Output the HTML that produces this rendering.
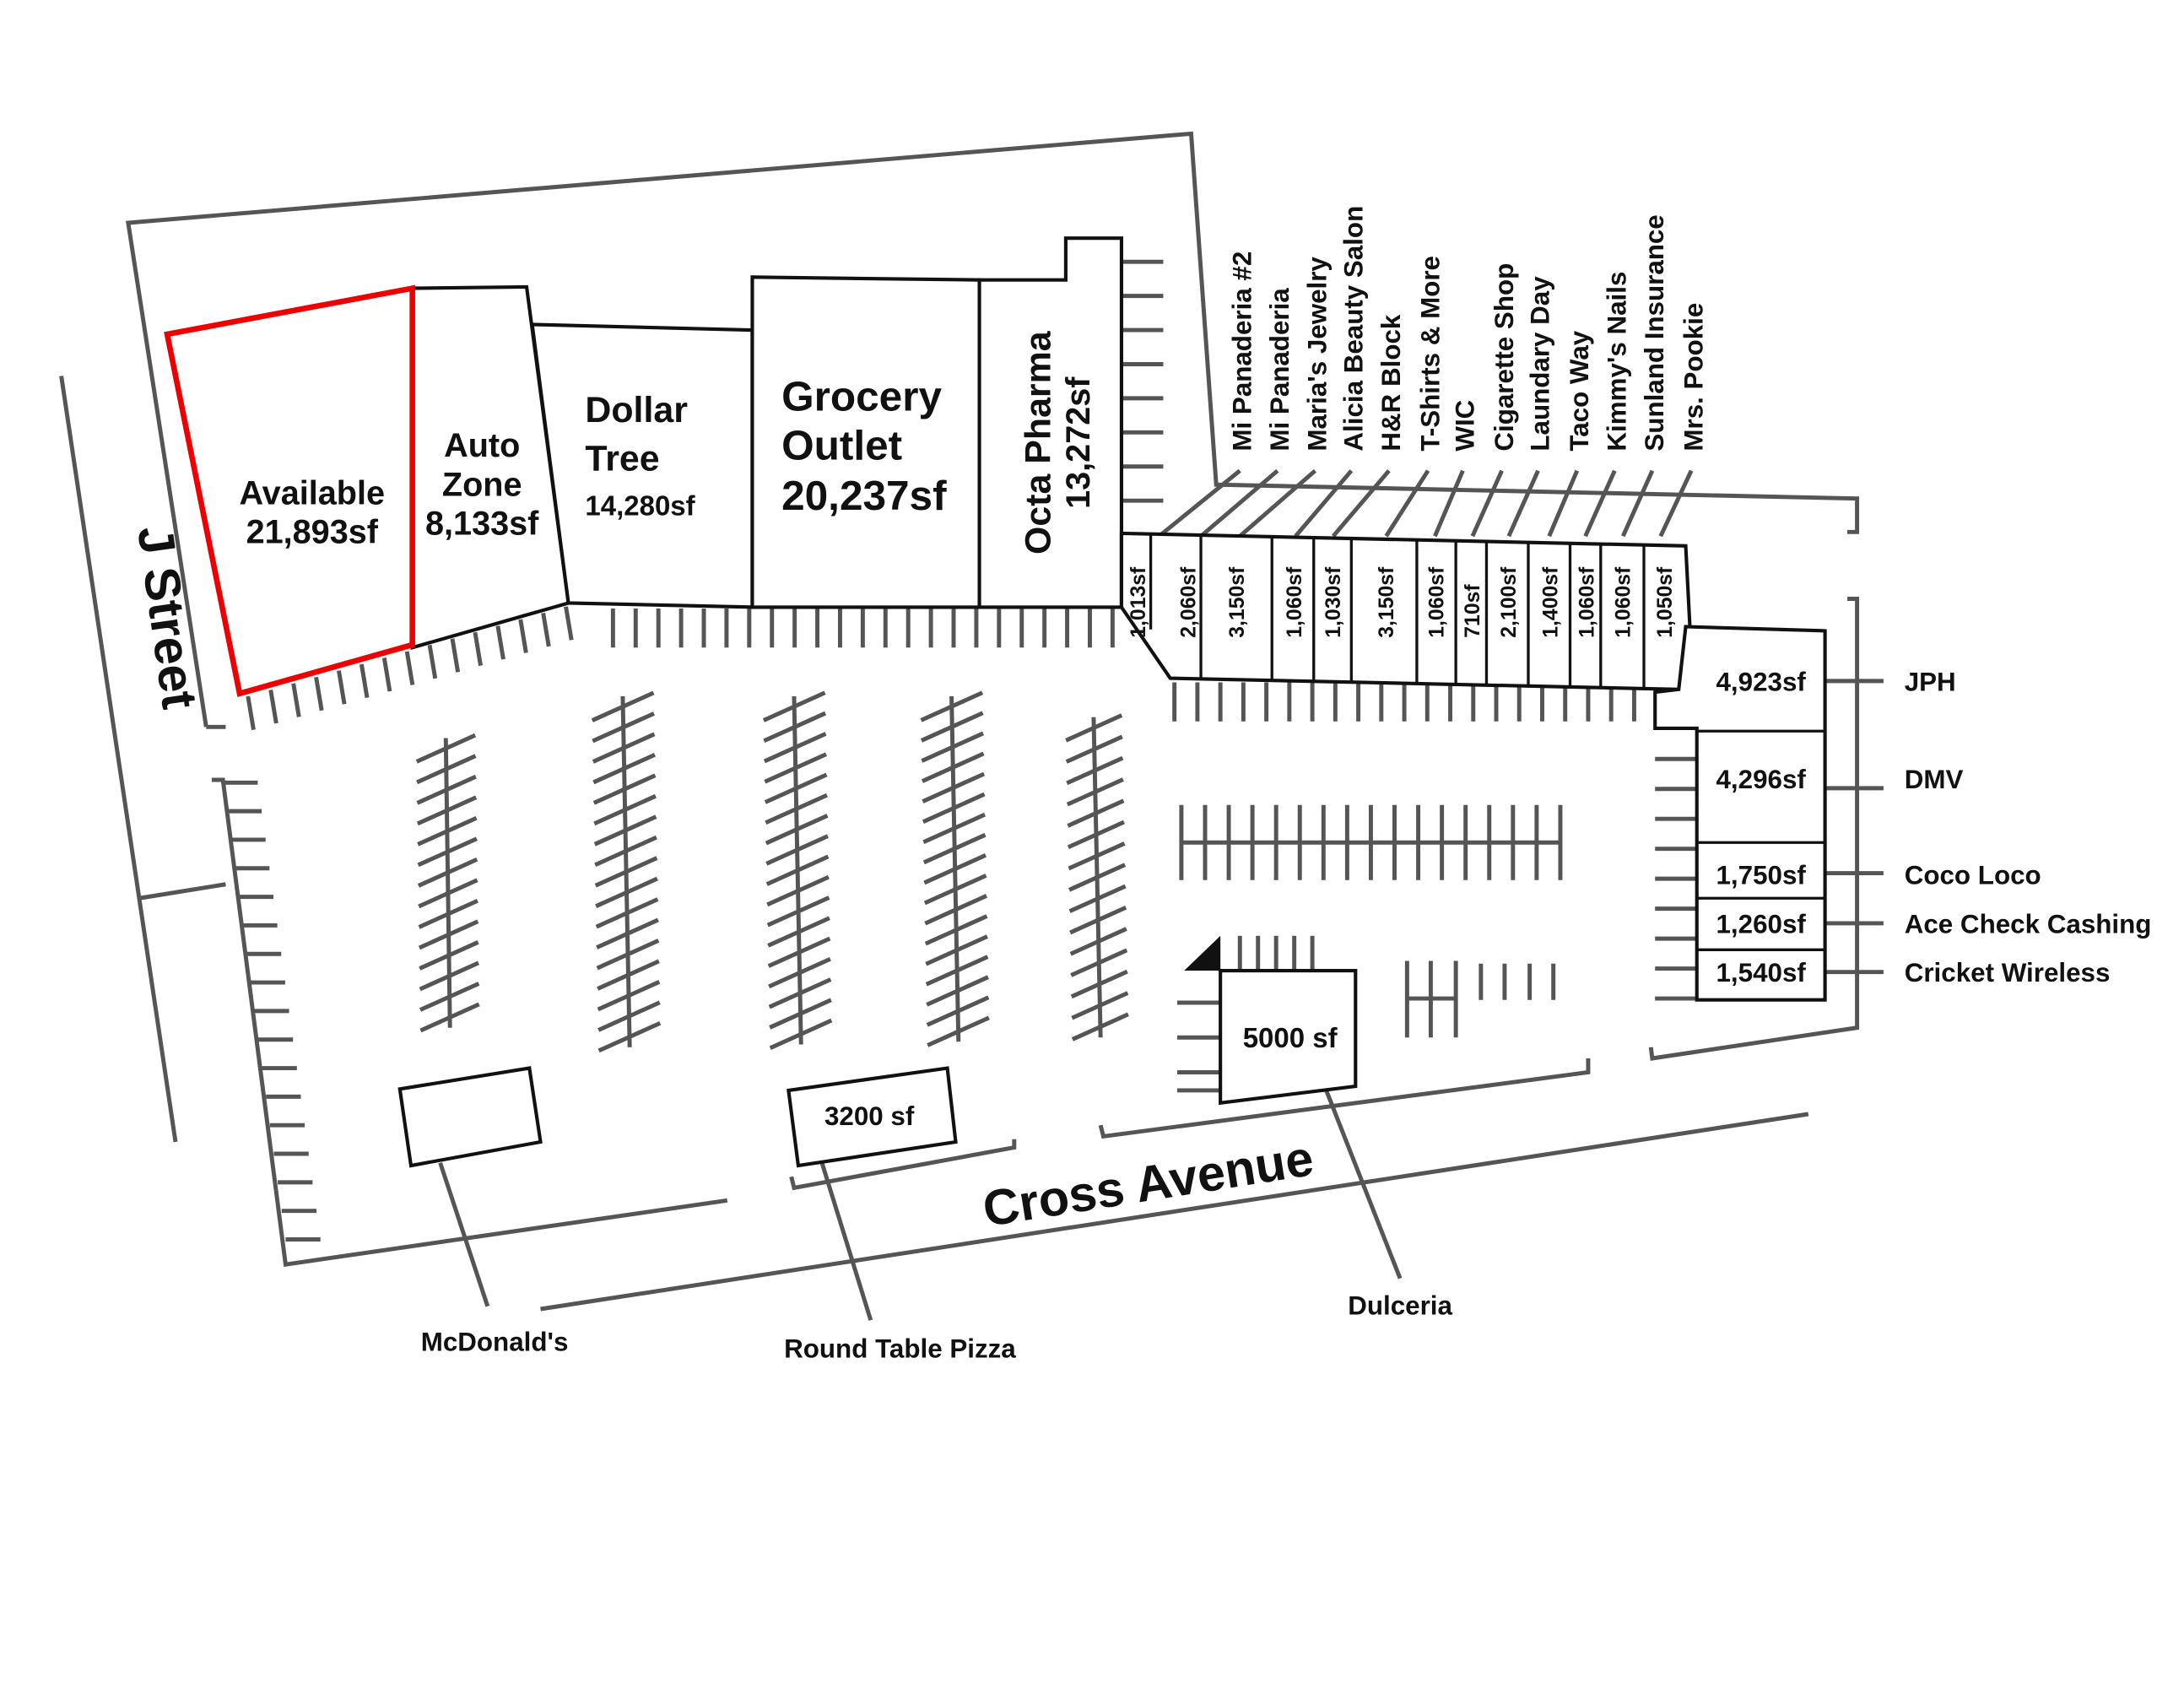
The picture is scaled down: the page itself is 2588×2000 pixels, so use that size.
<!DOCTYPE html>
<html><head><meta charset="utf-8"><style>
html,body{margin:0;padding:0;background:#fff;}
svg{display:block;}
text{font-family:"Liberation Sans",sans-serif;font-weight:bold;fill:#111;}
</style></head><body>
<svg id="s" xmlns="http://www.w3.org/2000/svg" width="2588" height="2000" viewBox="0 0 1552 1200" preserveAspectRatio="none">
<g transform="scale(0.99)">
<g fill="none" stroke="#555" stroke-width="3">
<polyline points="148,522 92,160 855,96 873,348 1333,358 1333,382 1326,382"/>
<polyline points="148,522 162,522"/>
<polyline points="152,560 160,560 205,908 522,862"/>
<polyline points="100,645 162,635"/>
<line x1="44" y1="270" x2="126" y2="820"/>
<polyline points="568,845 570,853 728,824 728,818"/>
<polyline points="790,808 792,816 1140,770 1140,760"/>
<polyline points="1185,752 1186,760 1333,738 1333,430 1326,430"/>
<line x1="388" y1="940" x2="1298" y2="800"/>
<line x1="316" y1="835" x2="350" y2="938"/>
<line x1="590" y1="835" x2="625" y2="948"/>
<line x1="952" y1="783" x2="1005" y2="918"/>
<line x1="1310" y1="489" x2="1352" y2="489"/>
<line x1="1310" y1="566" x2="1352" y2="566"/>
<line x1="1310" y1="627" x2="1352" y2="627"/>
<line x1="1310" y1="663" x2="1352" y2="663"/>
<line x1="1310" y1="698" x2="1352" y2="698"/>
<line x1="848" y1="605" x2="1120" y2="605"/>
<line x1="1010" y1="717" x2="1045" y2="717"/>
</g>
<g id="ticks" fill="none" stroke="#555" stroke-width="3"></g>
<g fill="#fff" stroke="#111" stroke-width="2.5">
<polygon points="296,207 378,206 408,433 296,465"/>
<polygon points="382,233 540,237 540,436 408,433"/>
<polygon points="540,199 703,201 703,436 540,436"/>
<polygon points="703,201 765,201 765,171 805,171 805,436 703,436"/>
<polygon points="805,383 1210,392 1213,450 1205,495 840,487 805,436"/>
<polygon points="1210,450 1310,453 1310,718 1218,718 1218,523 1188,523 1188,497 1205,495"/>
<polygon points="876,697 973,697 973,780 876,792"/>
<polygon points="287,782 380,767 388,820 295,837"/>
<polygon points="566,783 680,767 686,820 573,837"/>
</g>
<polygon points="850,697 876,672 876,697" fill="#111"/>
<polygon points="120,240 296,207 296,463 172,498" fill="none" stroke="#e00" stroke-width="4"/>
<g stroke="#111" stroke-width="2">
<line x1="826" y1="384" x2="826" y2="452"/><line x1="862" y1="385" x2="862" y2="488"/>
<line x1="913" y1="386" x2="913" y2="488"/><line x1="943" y1="386" x2="943" y2="489"/>
<line x1="970" y1="387" x2="970" y2="489"/><line x1="1017" y1="388" x2="1017" y2="490"/>
<line x1="1045" y1="389" x2="1045" y2="491"/><line x1="1067" y1="389" x2="1067" y2="491"/>
<line x1="1097" y1="390" x2="1097" y2="492"/><line x1="1127" y1="390" x2="1127" y2="493"/>
<line x1="1149" y1="391" x2="1149" y2="493"/><line x1="1180" y1="391" x2="1180" y2="494"/>
<line x1="1218" y1="525" x2="1310" y2="525"/><line x1="1218" y1="605" x2="1310" y2="605"/>
<line x1="1218" y1="645" x2="1310" y2="645"/><line x1="1218" y1="682" x2="1310" y2="682"/>
</g>
<g text-anchor="middle">
<text x="224" y="362" font-size="24">Available</text>
<text x="224" y="390" font-size="24">21,893sf</text>
<text x="346" y="328" font-size="24">Auto</text>
<text x="346" y="356" font-size="24">Zone</text>
<text x="346" y="384" font-size="24">8,133sf</text>
<text x="420" y="303" font-size="26" text-anchor="start">Dollar</text>
<text x="420" y="338" font-size="26" text-anchor="start">Tree</text>
<text x="420" y="370" font-size="20" text-anchor="start">14,280sf</text>
<text x="561" y="295" font-size="30" text-anchor="start">Grocery</text>
<text x="561" y="330" font-size="30" text-anchor="start">Outlet</text>
<text x="561" y="366" font-size="30" text-anchor="start">20,237sf</text>
<text transform="translate(754,318) rotate(-90)" font-size="26">Octa Pharma</text>
<text transform="translate(782,318) rotate(-90)" font-size="24">13,272sf</text>
<text x="1264" y="496" font-size="19">4,923sf</text>
<text x="1264" y="566" font-size="19">4,296sf</text>
<text x="1264" y="635" font-size="19">1,750sf</text>
<text x="1264" y="670" font-size="19">1,260sf</text>
<text x="1264" y="705" font-size="19">1,540sf</text>
<text x="926" y="752" font-size="20">5000 sf</text>
<text x="624" y="808" font-size="19">3200 sf</text>
<text x="355" y="970" font-size="19">McDonald's</text>
<text x="646" y="975" font-size="19">Round Table Pizza</text>
<text x="1005" y="944" font-size="19">Dulceria</text>
<text transform="translate(826,862) rotate(-9)" font-size="36">Cross Avenue</text>
<text transform="translate(108,445) rotate(82)" font-size="36">J Street</text>
</g>
<g font-size="19">
<text x="1367" y="496">JPH</text>
<text x="1367" y="566">DMV</text>
<text x="1367" y="635">Coco Loco</text>
<text x="1367" y="670">Ace Check Cashing</text>
<text x="1367" y="705">Cricket Wireless</text>
</g>
<g id="sf" font-size="15"></g>
<g id="lab" font-size="19"></g>
</g>
</svg>
<script>
var NS="http://www.w3.org/2000/svg";
var T=document.getElementById('ticks');
function L(a,b,c,d){var l=document.createElementNS(NS,'line');l.setAttribute('x1',a);l.setAttribute('y1',b);l.setAttribute('x2',c);l.setAttribute('y2',d);T.appendChild(l);}
for(var i=0;i<15;i++){var x=178+i*16.3,y=500-i*4.6;L(x,y,x+4,y+24);}
for(var i=0;i<23;i++){var x=440+i*16.3;L(x,437,x,465);}
for(var i=0;i<8;i++){var y=188+i*24.5;L(805,y,835,y);}
for(var i=0;i<22;i++){var x=843+i*16.5;L(x,490,x,518);}
function col(x1,y1,x2,y2,n,w){L(x1,y1,x2,y2);for(var i=0;i<n;i++){var t=(i+0.5)/n;var x=x1+(x2-x1)*t,y=y1+(y2-y1)*t;L(x-w,y+w*0.45,x+w,y-w*0.45);}}
col(320,530,323,738,14,21);
col(447,500,452,752,17,22);
col(570,500,575,750,17,22);
col(683,500,688,748,17,22);
col(785,515,790,745,15,20);
for(var i=0;i<17;i++){var t=i/16;var x=160+45*t,y=562+328*t;L(x,y,x+25,y);}
for(var i=0;i<17;i++){var x=848+i*17;L(x,578,x,632);}
for(var i=0;i<5;i++){var x=890+i*13;L(x,672,x,697);}
[720,745,770,783].forEach(function(y){L(845,y,876,y);});
[1010,1027,1045].forEach(function(x){L(x,690,x,745);});
[1063,1080,1098,1115].forEach(function(x){L(x,692,x,718);});
for(var i=0;i<9;i++){var y=545+i*21.5;L(1188,y,1218,y);}
var lx=[898,925,952,978,1005,1033,1058,1086,1112,1140,1167,1194,1222];
var cx=[832,862,890,930,957,995,1030,1057,1083,1112,1138,1165,1192];
for(var i=0;i<13;i++){L(lx[i]-8,338,cx[i],385);}
var S=document.getElementById('sf');
var sx=[822,858,893,934,962,1000,1036,1062,1088,1118,1144,1170,1200];
var sv=["1,013sf","2,060sf","3,150sf","1,060sf","1,030sf","3,150sf","1,060sf","710sf","2,100sf","1,400sf","1,060sf","1,060sf","1,050sf"];
for(var i=0;i<13;i++){var t=document.createElementNS(NS,'text');t.setAttribute('transform','translate('+sx[i]+',458) rotate(-90)');t.textContent=sv[i];S.appendChild(t);}
var Lb=document.getElementById('lab');
var names=["Mi Panaderia #2","Mi Panaderia","Maria's Jewelry","Alicia Beauty Salon","H&R Block","T-Shirts & More","WIC","Cigarette Shop","Laundary Day","Taco Way","Kimmy's Nails","Sunland Insurance","Mrs. Pookie"];
for(var i=0;i<13;i++){var t=document.createElementNS(NS,'text');t.setAttribute('transform','translate('+lx[i]+',324) rotate(-90)');t.textContent=names[i];Lb.appendChild(t);}
</script>
</body></html>
